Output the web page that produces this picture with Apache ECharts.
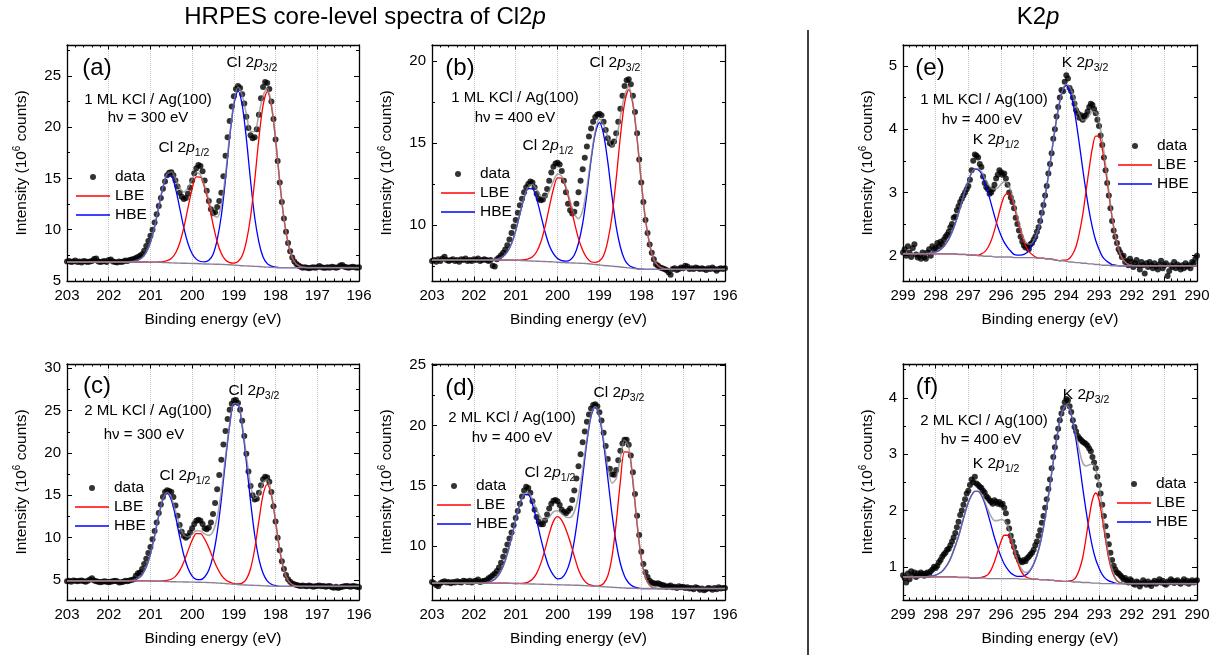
<!DOCTYPE html>
<html><head><meta charset="utf-8">
<script src="https://cdn.jsdelivr.net/npm/echarts@6/dist/echarts.min.js"></script>
<style>html,body{margin:0;padding:0;background:#fff}#c{width:1215px;height:655px}</style>
</head><body><div id="c"></div>
<script>
// ---------------- DATA ----------------
// Curves sampled every 0.1 eV starting at the high-BE end of the axis; data every 0.05 eV.
const bgA=[6.85,6.85,6.85,6.85,6.85,6.85,6.85,6.85,6.85,6.85, 6.85,6.85,6.85,6.85,6.85,6.85,6.85,6.85,6.85,6.85,
6.84,6.83,6.82,6.81,6.79,6.77,6.75,6.74,6.73,6.72,6.71,6.70,6.68,6.66,6.65,6.64,6.63,6.62,6.60,6.58,6.55,6.52,6.49,6.47,6.45,6.43,6.41,6.38,6.35,6.33,6.31,
6.30,6.30,6.30,6.30,6.30,6.30,6.30,6.30,6.30,6.30, 6.30,6.30,6.30,6.30,6.30,6.30,6.30,6.30,6.30,6.30];
const lbeA=[0,0,0,0,0,0,0,0,0,0, 0,0,0,0,0,0,0,0,0,0, 0,0,
0.03,0.08,0.19,0.43,0.95,1.94,3.47,5.41,7.28,8.45,8.45,7.4,5.9,3.9,2.2,1.05,0.45,0.22,0.20,0.37,0.96,2.39,4.79,8.38,12.48,15.73,17.1,15.73,12.48,8.38,4.79,2.39,0.96,0.34,0.12,0.03,
0,0,0,0,0,0,0,0,0,0, 0,0,0];
const hbeA=[0,0,0,0,0,0,0,0,0,0, 0,0,0,0,0,
0.03,0.08,0.19,0.43,0.95,1.94,3.47,5.41,7.28,8.45,8.45,7.28,5.41,3.47,1.94,0.95,0.43,0.22,0.20,0.37,0.95,2.38,4.76,8.33,12.41,15.64,17.0,15.64,12.41,8.33,4.76,2.38,0.95,0.34,0.12,0.03,
0,0,0,0,0,0,0,0,0,0, 0,0,0,0,0,0,0,0,0,0];
const dataA=[6.9,6.95,6.85,6.9,7.0,6.85,6.9,6.8,6.95,6.9,
6.85,6.9,6.95,7.15,7.2,6.9,6.85,6.9,6.95,6.85,
7.05,7.1,6.9,6.85,6.8,6.9,6.85,6.9,7.0,6.95,
7.05,7.1,7.15,7.25,7.35,7.45,7.6,7.95,8.4,8.9,
9.4,10.0,10.7,11.5,12.3,13.1,14.0,14.7,15.3,15.55,
15.6,15.3,14.8,14.2,13.6,13.2,13.0,13.1,13.5,14.1,
14.8,15.5,16.0,16.3,16.2,15.7,14.8,13.8,12.8,12.0,
11.6,11.7,12.2,12.8,13.6,15.2,17.2,19.0,20.6,22.0,
23.0,23.7,24.0,23.8,23.2,22.3,21.0,19.9,19.2,18.9,
19.0,19.8,21.2,22.8,23.9,24.4,24.3,23.7,22.5,20.8,
18.8,16.7,14.6,12.7,11.1,9.8,8.7,7.9,7.3,6.9,
6.65,6.5,6.4,6.3,6.35,6.3,6.25,6.3,6.35,6.3,
6.35,6.45,6.35,6.3,6.3,6.35,6.3,6.4,6.35,6.3,
6.35,6.5,6.55,6.4,6.35,6.3,6.35,6.4,6.35,6.3,
6.35];

const bgB=[7.85,7.85,7.85,7.85,7.85,7.85,7.85,7.85,7.85,7.85, 7.85,7.85,7.85,7.85,7.85,7.85,7.85,7.85,7.85,7.85,
7.84,7.83,7.82,7.80,7.79,7.78,7.77,7.76,7.75,7.74,7.72,7.70,7.69,7.68,7.67,7.66,7.65,7.63,7.61,7.58,7.55,7.52,7.50,7.48,7.46,7.43,7.40,7.37,7.34,7.31,7.29,
7.28,7.28,7.28,7.28,7.28,7.28,7.28,7.28,7.28,7.28, 7.28,7.28,7.28,7.28,7.28,7.28,7.28,7.28,7.28,7.28];
const hbeB=[0,0,0,0,0,0,0,0,0,0, 0,0,0,0,
0.01,0.04,0.10,0.23,0.50,1.01,1.82,2.83,3.81,4.42,4.42,3.81,2.83,1.82,1.01,0.50,0.23,0.12,0.10,0.18,0.49,1.22,2.44,4.26,6.35,8.0,8.7,8.0,6.35,4.26,2.44,1.22,0.49,0.17,0.06,0.02,
0,0,0,0,0,0,0,0,0,0, 0,0,0,0,0,0,0,0,0,0, 0];
const lbeB=[0,0,0,0,0,0,0,0,0,0, 0,0,0,0,0,0,0,0,0,0, 0,
0.02,0.05,0.12,0.26,0.58,1.18,2.12,3.30,4.44,5.16,5.16,4.55,3.6,2.5,1.5,0.8,0.35,0.14,0.13,0.24,0.61,1.53,3.05,5.34,7.96,10.03,10.9,10.03,7.96,5.34,3.05,1.53,0.61,0.22,0.08,0.02,
0,0,0,0,0,0,0,0,0,0, 0,0,0,0];
const dataB=[7.8,7.85,7.75,7.9,7.8,7.95,8.05,7.85,7.8,7.85,
7.9,7.8,7.85,7.75,7.9,7.85,7.95,7.8,7.85,7.8,
7.9,7.85,7.95,7.8,7.85,7.9,7.85,7.8,7.85,7.5,
7.45,7.9,8.0,8.15,8.3,8.5,8.75,9.1,9.5,9.9,
10.3,10.75,11.2,11.6,12.0,12.3,12.5,12.65,12.6,12.3,
11.9,11.6,11.5,11.55,11.8,12.2,12.7,13.2,13.55,13.75,
13.8,13.7,13.3,12.7,12.0,11.3,10.9,10.7,10.8,11.3,
12.0,12.7,13.4,14.1,14.8,15.4,15.9,16.3,16.6,16.75,
16.8,16.7,16.3,15.8,15.3,15.0,14.9,15.1,15.6,16.3,
17.1,17.9,18.5,18.85,18.9,18.6,17.9,16.9,15.6,14.0,
12.6,11.4,10.3,9.5,8.8,8.3,7.9,7.6,7.5,7.4,
7.35,7.3,7.25,7.1,6.95,7.3,7.35,7.25,7.3,7.4,
7.35,7.5,7.45,7.3,7.35,7.3,7.4,7.35,7.3,7.35,
7.3,7.25,7.35,7.3,7.4,7.3,7.2,7.3,7.35,7.3,
7.35];

const bgC=[4.90,4.90,4.90,4.90,4.90,4.90,4.90,4.90,4.90,4.90, 4.90,4.90,4.90,4.90,4.90,4.90,4.90,4.90,4.90,4.90,
4.89,4.88,4.86,4.84,4.82,4.80,4.79,4.78,4.77,4.76,4.75,4.74,4.73,4.72,4.70,4.68,4.65,4.62,4.58,4.54,4.50,4.46,4.43,4.41,4.39,4.37,4.35,4.32,4.30,4.28,4.27,
4.25,4.25,4.25,4.25,4.25,4.25,4.25,4.25,4.25,4.25, 4.25,4.25,4.25,4.25,4.25,4.25,4.25,4.25,4.25,4.25];
const hbeC=[0,0,0,0,0,0,0,0,0,0, 0,0,0,0,0,
0.03,0.09,0.28,0.72,1.63,3.18,5.34,7.74,9.66,10.4,9.66,7.74,5.34,3.18,1.63,0.72,0.34,0.31,0.63,1.47,3.15,5.94,9.89,14.52,18.71,21.25,21.25,18.71,14.52,9.89,5.94,3.15,1.47,0.60,0.22,0.06,
0,0,0,0,0,0,0,0,0,0, 0,0,0,0,0,0,0,0,0,0];
const lbeC=[0,0,0,0,0,0,0,0,0,0, 0,0,0,0,0,0,0,0,0,0, 0,0,
0.02,0.05,0.13,0.29,0.64,1.32,2.36,3.68,4.95,5.74,5.74,5.1,4.1,2.9,1.8,0.95,0.45,0.2,0.08,0.07,0.20,0.70,1.94,4.32,7.62,10.72,12.0,10.72,7.62,4.32,1.94,0.70,0.20,0.05,
0,0,0,0,0,0,0,0,0,0, 0,0,0,0,0];
const dataC=[4.85,4.9,4.8,4.95,4.9,4.85,4.9,4.95,4.85,4.8,
4.9,5.05,5.2,4.95,4.85,4.8,4.75,4.8,4.85,4.8,
4.75,4.8,4.85,4.9,4.85,4.7,4.75,4.8,4.9,4.85,
4.95,5.0,5.1,5.5,5.8,5.9,6.3,6.9,7.5,8.2,
8.9,9.8,10.8,11.8,12.9,13.9,14.8,15.4,15.6,15.5,
15.4,14.8,13.8,12.6,11.5,10.7,10.2,10.0,10.2,10.6,
11.1,11.6,12.0,12.1,12.0,11.6,11.1,11.0,11.2,11.8,
12.8,14.1,15.7,17.4,19.2,21.0,22.6,24.0,25.1,25.8,
26.2,26.25,25.9,25.1,23.8,22.0,19.9,17.8,16.1,15.0,
14.5,14.6,15.3,16.2,16.9,17.2,17.1,16.6,15.4,13.7,
11.9,10.0,8.5,7.2,6.3,5.6,5.1,4.8,4.6,4.5,
4.4,4.35,4.3,4.35,4.3,4.25,4.35,4.3,4.2,4.25,
4.3,4.35,4.25,4.3,4.2,4.25,4.3,4.15,4.1,4.2,
4.05,4.15,4.2,4.25,4.3,4.25,4.2,4.3,4.25,4.2,
4.15];

const bgD=[6.90,6.90,6.90,6.90,6.90,6.90,6.90,6.90,6.90,6.90, 6.90,6.90,6.90,6.90,6.90,6.90,6.90,6.90,
6.89,6.88,6.87,6.86,6.85,6.84,6.83,6.82,6.81,6.80,6.79,6.78,6.77,6.76,6.75,6.74,6.73,6.72,6.70,6.68,6.66,6.64,6.62,6.60,6.58,6.56,6.54,6.52,6.50,6.48,6.47,6.46,
6.45,6.45,6.45,6.45,6.45,6.45,6.45,6.45,6.45,6.45, 6.45,6.45,6.45,6.45,6.45,6.45,6.45,6.45,6.45,6.45, 6.45];
const hbeD=[0,0,0,0,0,0,0,0,0,0, 0,0,0,
0.05,0.14,0.33,0.72,1.40,2.44,3.80,5.30,6.62,7.40,7.40,6.62,5.30,3.80,2.44,1.40,0.78,0.49,0.57,1.03,2.01,3.71,6.12,9.04,11.93,14.10,14.9,14.10,11.93,9.04,6.12,3.71,2.01,0.98,0.43,0.16,0.06,
0,0,0,0,0,0,0,0,0,0, 0,0,0,0,0,0,0,0,0,0, 0];
const lbeD=[0,0,0,0,0,0,0,0,0,0, 0,0,0,0,0,0,0,0,0,0, 0,
0.02,0.05,0.15,0.39,0.89,1.73,2.90,4.20,5.25,5.65,5.35,4.6,3.6,2.4,1.3,0.6,0.22,0.07,0.02,0.06,0.27,0.93,2.52,5.34,8.80,11.3,11.3,8.80,5.34,2.52,0.93,0.27,0.06,
0,0,0,0,0,0,0,0,0,0, 0,0,0,0,0,0,0];
const dataD=[7.0,6.9,6.75,6.65,6.9,7.0,7.05,6.95,7.0,6.9,
7.0,6.95,7.05,7.0,6.95,7.1,7.05,7.0,7.1,6.95,
7.05,7.1,7.2,7.0,7.05,7.1,7.15,7.3,7.4,7.55,
7.7,7.9,8.2,8.6,9.1,9.6,10.1,10.6,11.1,11.7,
12.3,12.9,13.5,14.1,14.6,14.9,14.8,14.4,13.7,13.0,
12.4,12.0,11.8,11.8,12.1,12.6,13.1,13.5,13.75,13.8,
13.7,13.4,13.0,12.8,12.7,12.9,13.1,13.8,14.6,15.6,
16.6,17.6,18.6,19.5,20.3,20.9,21.4,21.7,21.75,21.6,
21.1,20.4,19.4,18.3,17.2,16.4,15.95,15.9,16.3,17.1,
17.9,18.5,18.8,18.8,18.4,17.5,16.1,14.3,12.5,10.9,
9.5,8.5,7.8,7.4,7.1,6.95,6.9,6.85,6.9,6.8,
6.75,6.7,6.6,6.65,6.7,6.55,6.6,6.5,6.65,6.55,
6.6,6.5,6.55,6.45,6.5,6.4,6.55,6.5,6.35,6.45,
6.3,6.4,6.5,6.45,6.35,6.5,6.4,6.55,6.45,6.5,
6.5];

const bgE=[2.03,2.03,2.03,2.03,2.03,2.03,2.03,2.03,2.03,2.03, 2.03,2.03,2.03,2.03,2.03,2.03,2.03,
2.02,2.02,2.02, 2.01,2.01,2.01, 2.00,2.00, 1.99,1.99,1.99, 1.98,1.98,1.98,1.98,1.98,1.98,
1.97,1.97,1.97,1.97,1.97,1.97,1.97, 1.96,1.96,1.96, 1.95,1.95, 1.94, 1.93, 1.92,1.92, 1.91, 1.90,1.90,
1.89,1.89, 1.88,1.88, 1.87,1.87, 1.86,1.86, 1.85,1.85,1.85,
1.84,1.84,1.84,1.84,1.84,1.84,1.84,1.84,1.84,1.84, 1.84,1.84,1.84,1.84,1.84,1.84,1.84,1.84,1.84,1.84, 1.84,1.84,1.84,1.84,1.84,1.84,1.84];
const hbeE=[0,0,0,0,0,0,0,0,
0.01,0.02,0.03,0.05,0.09,0.15,0.23,0.34,0.48,0.65,0.83,1.01,1.17,1.30,1.36,1.36,1.30,1.17,1.01,0.83,0.65,0.48,0.34,0.23,0.15,0.09,0.05,0.04,0.04,0.05,0.08,0.14,0.24,0.38,0.57,0.83,1.14,1.50,1.87,2.23,2.52,2.71,2.78,2.71,2.52,2.23,1.87,1.50,1.14,0.83,0.57,0.38,0.24,0.14,0.08,0.04,0.02,0.01,
0,0,0,0,0,0,0,0,0,0, 0,0,0,0,0,0,0,0,0,0, 0,0,0,0,0];
const lbeE=[0,0,0,0,0,0,0,0,0,0, 0,0,0,0,0,0,0,0,0,0, 0,0,0,
0.01,0.03,0.07,0.14,0.25,0.42,0.61,0.81,0.96,1.01,0.96,0.81,0.61,0.42,0.25,0.14,0.07,0.03,0.01,
0,0,0,0,0,0,0,
0.01,0.02,0.06,0.13,0.26,0.47,0.76,1.13,1.51,1.84,2.03,2.03,1.84,1.51,1.13,0.76,0.47,0.26,0.13,0.06,0.02,0.01,
0,0,0,0,0,0,0,0,0,0, 0,0,0,0,0,0,0,0,0,0];
const dataE=[2.05,2.1,2.0,2.15,2.05,1.98,2.12,2.18,2.02,1.97,
2.0,1.95,2.05,1.98,1.95,2.05,2.1,2.0,2.15,2.1,
2.12,2.2,2.15,2.22,2.18,2.25,2.3,2.33,2.38,2.45,
2.5,2.6,2.62,2.72,2.78,2.85,2.9,2.95,3.0,3.05,
3.1,3.2,3.35,3.5,3.6,3.58,3.55,3.45,3.4,3.25,
3.15,3.08,3.05,2.98,3.0,3.05,3.12,3.22,3.28,3.35,
3.32,3.28,3.3,3.22,3.12,3.0,2.92,2.85,2.75,2.6,
2.5,2.4,2.3,2.22,2.16,2.13,2.15,2.1,2.18,2.2,
2.25,2.3,2.38,2.45,2.55,2.68,2.8,2.95,3.1,3.3,
3.45,3.62,3.85,4.0,4.2,4.35,4.5,4.62,4.6,4.75,
4.85,4.8,4.65,4.6,4.5,4.4,4.3,4.25,4.18,4.22,
4.15,4.2,4.22,4.28,4.35,4.4,4.38,4.32,4.25,4.15,
4.05,3.9,3.75,3.55,3.35,3.15,2.95,2.75,2.55,2.4,
2.3,2.2,2.1,2.05,1.98,2.0,1.9,1.92,1.85,1.95,
1.9,1.82,1.88,1.93,1.85,1.78,1.9,1.85,1.72,1.88,
1.82,1.9,1.85,1.8,1.88,1.83,1.78,1.86,1.92,1.8,
1.85,1.88,1.68,1.76,1.85,1.82,1.9,1.8,1.86,1.83,
1.78,1.85,1.8,1.88,1.83,1.85,1.8,1.9,1.88,1.95,
2.0];

const bgF=[0.82,0.82,0.82,0.82,0.82,0.82,0.82,0.82,0.82,0.82, 0.82,0.82,0.82,0.82,0.82,0.82,0.82,
0.81,0.81,0.81,0.81, 0.80,0.80,0.80,0.80,0.80,
0.79,0.79,0.79,0.79,0.79,0.79,0.79,0.79,0.79,0.79,
0.78,0.78,0.78,0.78,0.78,0.78, 0.77,0.77,0.77, 0.76,0.76, 0.75,0.75, 0.74,0.74,0.74, 0.73,0.73,0.73, 0.72,0.72,0.72, 0.71,0.71,0.71,
0.70,0.70,0.70,0.70,0.70,0.70,0.70,0.70,0.70,0.70, 0.70,0.70,0.70,0.70,0.70,0.70,0.70,0.70,0.70,0.70, 0.70,0.70,0.70,0.70,0.70,0.70,0.70,0.70,0.70,0.70];
const hbeF=[0,0,0,0,0,0,0,0,
0.01,0.02,0.03,0.06,0.10,0.17,0.26,0.39,0.55,0.73,0.94,1.15,1.33,1.47,1.54,
1.54,1.47,1.33,1.15,0.94,0.73,0.55,0.39,0.26,0.17,0.10,0.06,
0.04,0.05,0.06,0.09,0.16,0.27,
0.42,0.64,0.93,1.29,1.69,2.11,2.51,2.84,3.05,3.13,
3.05,2.84,2.51,2.11,1.69,1.29,0.93,0.64,0.42,0.27,0.16,0.09,0.05,0.03,0.01,
0,0,0,0,0,0,0,0,0,0, 0,0,0,0,0,0,0,0,0,0, 0,0,0,0,0];
const lbeF=[0,0,0,0,0,0,0,0,0,0, 0,0,0,0,0,0,0,0,0,0, 0,0,0,0,
0.01,0.03,0.07,0.16,0.30,0.48,0.66,0.77,0.77,0.66,0.48,0.30,0.16,0.07,0.03,0.01,
0,0,0,0,0,0,0,0,0,0,0,
0.01,0.03,0.09,0.22,0.44,0.78,1.16,1.48,1.6,1.48,1.16,0.78,0.44,0.22,0.09,0.03,0.01,
0,0,0,0,0,0,0,0,0,0, 0,0,0,0,0,0,0,0,0,0, 0,0,0];
const dataF=[0.85,0.8,0.72,0.88,0.78,0.92,0.85,0.9,0.82,0.88,
0.85,0.9,0.87,0.84,0.88,0.9,0.86,0.92,0.95,1.0,
0.98,1.02,1.08,1.12,1.18,1.22,1.25,1.3,1.32,1.38,
1.45,1.52,1.6,1.7,1.8,1.92,2.0,2.1,2.2,2.3,
2.35,2.45,2.55,2.5,2.6,2.48,2.45,2.42,2.4,2.35,
2.32,2.25,2.22,2.18,2.15,2.12,2.18,2.15,2.12,2.15,
2.1,2.12,2.05,1.95,1.8,1.68,1.55,1.45,1.35,1.25,
1.18,1.12,1.1,1.08,1.12,1.1,1.15,1.18,1.22,1.25,
1.3,1.38,1.45,1.55,1.65,1.78,1.9,2.05,2.2,2.38,
2.55,2.75,2.95,3.12,3.3,3.45,3.6,3.72,3.82,3.92,
3.98,3.95,3.85,3.75,3.6,3.48,3.4,3.32,3.28,3.25,
3.22,3.2,3.18,3.15,3.1,3.05,2.95,2.85,2.75,2.6,
2.45,2.3,2.1,1.9,1.72,1.55,1.4,1.25,1.12,1.02,
0.95,0.9,0.88,0.85,0.82,0.78,0.8,0.75,0.72,0.78,
0.75,0.7,0.68,0.74,0.72,0.65,0.7,0.76,0.72,0.68,
0.74,0.7,0.66,0.72,0.75,0.7,0.73,0.78,0.72,0.75,
0.7,0.68,0.74,0.72,0.78,0.75,0.71,0.74,0.76,0.72,
0.7,0.74,0.78,0.72,0.75,0.7,0.73,0.76,0.72,0.74,
0.76];

// Axis ranges / tick labels
const xRangeCl=[196,203], xRangeK=[290,299];
const yTicksA=[5,10,15,20,25],   yMinorA=[7.5,12.5,17.5,22.5,27.5];
const yTicksB=[10,15,20],        yMinorB=[7.5,12.5,17.5];
const yTicksC=[5,10,15,20,25,30],yMinorC=[7.5,12.5,17.5,22.5,27.5];
const yTicksD=[10,15,20,25],     yMinorD=[7.5,12.5,17.5,22.5];
const yTicksE=[2,3,4,5],         yMinorE=[2.5,3.5,4.5];
const yTicksF=[1,2,3,4],         yMinorF=[0.5,1.5,2.5,3.5,4.5];

// Texts
const panelTags=['(a)','(b)','(c)','(d)','(e)','(f)'];
const sampleTexts=['1 ML KCl / Ag(100)','1 ML KCl / Ag(100)','2 ML KCl / Ag(100)','2 ML KCl / Ag(100)','1 ML KCl / Ag(100)','2 ML KCl / Ag(100)'];
const photonTexts=['h\u03bd = 300 eV','h\u03bd = 400 eV','h\u03bd = 300 eV','h\u03bd = 400 eV','h\u03bd = 400 eV','h\u03bd = 400 eV'];
const elements=['Cl','Cl','Cl','Cl','K','K'];
const legendNames=['data','LBE','HBE'];
const xAxisName='Binding energy (eV)';
const yAxisName='Intensity (10{sup|6} counts)';

// ---------------- LAYOUT ----------------
const FONT='"Liberation Sans", Arial, Helvetica, sans-serif';
const panels=[
 {bg:bgA,lbe:lbeA,hbe:hbeA,data:dataA,xr:xRangeCl,y:[5,28],   yt:yTicksA,ym:yMinorA,grid:[67,45,292,236], gap:35,leg:[76,169], ann:{tag:[97,68],  s:[148,100],ph:[148,118],p12:[184,148],p32:[252,63]}},
 {bg:bgB,lbe:lbeB,hbe:hbeB,data:dataB,xr:xRangeCl,y:[6.57,21],yt:yTicksB,ym:yMinorB,grid:[432,45,293,236],gap:35,leg:[441,166],ann:{tag:[460,68], s:[515,98], ph:[515,118],p12:[548,146],p32:[615,63]}},
 {bg:bgC,lbe:lbeC,hbe:hbeC,data:dataC,xr:xRangeCl,y:[2.64,30.5],yt:yTicksC,ym:yMinorC,grid:[67,364,292,236],gap:35,leg:[75,480], ann:{tag:[97,386], s:[148,411],ph:[144,435],p12:[185,476],p32:[254,391]}},
 {bg:bgD,lbe:lbeD,hbe:hbeD,data:dataD,xr:xRangeCl,y:[5.5,25.1],yt:yTicksD,ym:yMinorD,grid:[432,364,293,236],gap:35,leg:[437,478],ann:{tag:[460,388],s:[512,418],ph:[512,438],p12:[550,473],p32:[619,393]}},
 {bg:bgE,lbe:lbeE,hbe:hbeE,data:dataE,xr:xRangeK, y:[1.6,5.33],yt:yTicksE,ym:yMinorE,grid:[903,45,294,236],gap:25,leg:[1118,138],ann:{tag:[930,68],s:[984,100],ph:[982,120],p12:[996,140],p32:[1085,63]}},
 {bg:bgF,lbe:lbeF,hbe:hbeF,data:dataF,xr:xRangeK, y:[0.41,4.6],yt:yTicksF,ym:yMinorF,grid:[903,364,294,236],gap:25,leg:[1117,476],ann:{tag:[927,387],s:[984,421],ph:[981,440],p12:[996,464],p32:[1086,395]}}
];

panels.forEach((p,k)=>{
  const nC=Math.round((p.xr[1]-p.xr[0])/0.1)+1, nD=Math.round((p.xr[1]-p.xr[0])/0.05)+1;
  if(p.bg.length!==nC||p.lbe.length!==nC||p.hbe.length!==nC||p.data.length!==nD)
    throw new Error('panel '+k+' lengths '+[p.bg.length,p.lbe.length,p.hbe.length,p.data.length].join(','));
});

const LINE_ICON='path://M0,0H34V1.4H0Z';
const grids=[],xAxes=[],yAxes=[],series=[],legends=[],graphics=[];
const axisLineStyle={color:'#000',width:1.3};
const tickStyle={color:'#000',width:1};

panels.forEach((p,k)=>{
  grids.push({left:p.grid[0],top:p.grid[1],width:p.grid[2],height:p.grid[3],containLabel:false});
  const xc={type:'value',gridIndex:k,min:p.xr[0],max:p.xr[1],interval:1,inverse:true,
    axisLine:{show:true,onZero:false,lineStyle:axisLineStyle},
    axisTick:{show:true,inside:true,length:4.5,lineStyle:tickStyle},
    minorTick:{show:true,splitNumber:5,length:2.5,lineStyle:tickStyle}};
  xAxes.push(Object.assign({},xc,{position:'bottom',
    axisLabel:{show:true,margin:7,fontSize:15,color:'#000',fontFamily:FONT},
    splitLine:{show:true,lineStyle:{type:'dotted',color:'#c4c4c4',width:1}},
    name:xAxisName,nameLocation:'middle',nameGap:31,
    nameTextStyle:{fontSize:15.5,color:'#000',fontFamily:FONT}}));
  xAxes.push(Object.assign({},xc,{position:'top',axisLabel:{show:false},splitLine:{show:false}}));

  const yb={type:'value',gridIndex:k,min:p.y[0],max:p.y[1],splitLine:{show:false},minorTick:{show:false}};
  yAxes.push(Object.assign({},yb,{position:'left',
    axisLine:{show:true,onZero:false,lineStyle:axisLineStyle},
    axisTick:{show:true,inside:true,length:5,customValues:p.yt,lineStyle:tickStyle},
    axisLabel:{show:true,customValues:p.yt,margin:6,fontSize:15,color:'#000',fontFamily:FONT},
    name:yAxisName,nameLocation:'middle',nameGap:p.gap,
    nameTextStyle:{fontSize:15.5,color:'#000',fontFamily:FONT,lineHeight:20,
      rich:{sup:{fontSize:10,lineHeight:10,verticalAlign:'top',fontFamily:FONT,color:'#000'}}}}));
  yAxes.push(Object.assign({},yb,{position:'left',axisLine:{show:false},
    axisTick:{show:true,inside:true,length:3,customValues:p.ym,lineStyle:tickStyle},axisLabel:{show:false}}));
  yAxes.push(Object.assign({},yb,{position:'right',axisLine:{show:true,onZero:false,lineStyle:axisLineStyle},
    axisTick:{show:true,inside:true,length:5,customValues:p.yt,lineStyle:tickStyle},axisLabel:{show:false}}));
  yAxes.push(Object.assign({},yb,{position:'right',axisLine:{show:false},
    axisTick:{show:true,inside:true,length:3,customValues:p.ym,lineStyle:tickStyle},axisLabel:{show:false}}));

  const xi=2*k, yi=4*k;
  const cx=p.bg.map((_,i)=>+(p.xr[1]-i*0.1).toFixed(2));
  const dx=p.data.map((_,j)=>+(p.xr[1]-j*0.05).toFixed(2));
  const base={xAxisIndex:xi,yAxisIndex:yi,silent:true,animation:false};
  series.push(Object.assign({},base,{name:'data',type:'scatter',symbolSize:6,
    itemStyle:{color:'#000'},data:p.data.map((v,j)=>[dx[j],v]),z:2}));
  const line=(name,vals,color,width,z,opacity)=>Object.assign({},base,{name,type:'line',
    data:cx.map((x,i)=>[x,vals[i]]),symbol:'none',showSymbol:false,smooth:0.3,
    lineStyle:{color,width,opacity:opacity==null?1:opacity},itemStyle:{color},z});
  series.push(line('HBE',p.bg.map((b,i)=>b+p.hbe[i]),'#0000ff',1.3,3));
  series.push(line('LBE',p.bg.map((b,i)=>b+p.lbe[i]),'#ff0000',1.3,3));
  series.push(line('background',p.bg,'#8c7d99',1.4,4));
  series.push(line('fit',p.bg.map((b,i)=>b+p.lbe[i]+p.hbe[i]),'#858585',1.6,5,0.7));

  legends.push({left:p.leg[0],top:p.leg[1],orient:'vertical',padding:0,itemWidth:34,itemHeight:6,itemGap:3,
    selectedMode:false,itemStyle:{borderWidth:0},
    textStyle:{fontSize:15.5,lineHeight:16,color:'#000',fontFamily:FONT},
    data:[{name:legendNames[0],icon:'circle'},{name:legendNames[1],icon:LINE_ICON},{name:legendNames[2],icon:LINE_ICON}]});

  const a=p.ann;
  const t=(pos,text,size,extra)=>({type:'text',x:pos[0],y:pos[1],silent:true,z:100,
    style:Object.assign({text,fontSize:size,fontFamily:FONT,fill:'#000',align:'center',verticalAlign:'middle'},extra||{})});
  graphics.push(t(a.tag,panelTags[k],24));
  graphics.push(t(a.s,sampleTexts[k],15));
  graphics.push(t(a.ph,photonTexts[k],15));
  const peakRich={lineHeight:22,rich:{i:{fontStyle:'italic',fontSize:15.5,lineHeight:22,fontFamily:FONT,fill:'#000'},
    s:{fontSize:10.5,lineHeight:11,verticalAlign:'bottom',fontFamily:FONT,fill:'#000'}}};
  graphics.push(t(a.p12,elements[k]+' 2{i|p}{s|1/2}',15.5,peakRich));
  graphics.push(t(a.p32,elements[k]+' 2{i|p}{s|3/2}',15.5,peakRich));
});

const titleRich={rich:{i:{fontStyle:'italic',fontSize:24,fontFamily:FONT,fill:'#000'}}};
graphics.push({type:'text',x:365,y:17,silent:true,style:Object.assign({text:'HRPES core-level spectra of Cl2{i|p}',fontSize:24,fontFamily:FONT,fill:'#000',align:'center',verticalAlign:'middle'},titleRich)});
graphics.push({type:'text',x:1038,y:17,silent:true,style:Object.assign({text:'K2{i|p}',fontSize:24,fontFamily:FONT,fill:'#000',align:'center',verticalAlign:'middle'},titleRich)});
graphics.push({type:'line',silent:true,shape:{x1:808,y1:30,x2:808,y2:655},style:{stroke:'#000',lineWidth:1.5}});

const chart=echarts.init(document.getElementById('c'),null,{renderer:'canvas',width:1215,height:655});
chart.setOption({animation:false,backgroundColor:'#fff',grid:grids,xAxis:xAxes,yAxis:yAxes,series,legend:legends,graphic:graphics,tooltip:{show:false}});
</script></body></html>
